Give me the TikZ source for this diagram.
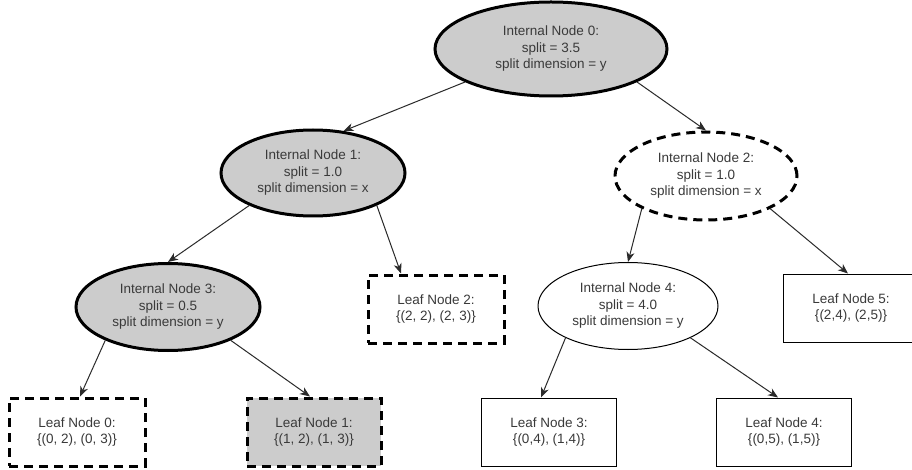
\documentclass[tikz,border=0pt]{standalone}
\usepackage{fontspec}
\setmainfont{Liberation Sans}
\usetikzlibrary{shapes.geometric,arrows.meta}
\definecolor{nodegray}{HTML}{CCCCCC}
\definecolor{ink}{HTML}{3A3A3A}
\definecolor{edgeink}{HTML}{2A2A2A}
\tikzset{
  base/.style={align=center, text=ink, font=\fontsize{13.5}{16.5}\selectfont, inner sep=0pt},
  internal/.style={base, ellipse, draw=black},
  splitnode/.style={internal, fill=nodegray, line width=3pt},
  pending/.style={internal, line width=3pt, dash pattern=on 9pt off 6pt},
  plainsplit/.style={internal, line width=1pt},
  leaf/.style={base, rectangle, draw=black, minimum width=136pt, minimum height=68pt},
  leafdash/.style={leaf, line width=3pt, dash pattern=on 9pt off 6pt},
  leafplain/.style={leaf, line width=1pt},
  edge/.style={draw=edgeink, line width=1pt, -{Stealth[length=10pt,width=8pt,inset=3pt]}},
}

\begin{document}
\begin{tikzpicture}[x=1pt,y=-1pt]
\useasboundingbox (0,0) rectangle (912,470);
\clip (0,0) rectangle (912,470);
\fill[white] (0,0) rectangle (912,470);

% internal nodes
\node[splitnode, minimum width=232pt, minimum height=94pt] (n0) at (551,49)
  {Internal Node 0:\\split = 3.5\\split dimension = y};
\node[splitnode, minimum width=184pt, minimum height=86pt] (n1) at (313,173)
  {Internal Node 1:\\split = 1.0\\split dimension = x};
\node[pending, minimum width=182pt, minimum height=88pt] (n2) at (706,176)
  {Internal Node 2:\\split = 1.0\\split dimension = x};
\node[splitnode, minimum width=184pt, minimum height=87pt] (n3) at (168,307)
  {Internal Node 3:\\split = 0.5\\split dimension = y};
\node[plainsplit, minimum width=180pt, minimum height=87pt] (n4) at (628,306)
  {Internal Node 4:\\split = 4.0\\split dimension = y};

% leaves
\node[leafdash] (l0) at (77,432) {Leaf Node 0:\\\{(0, 2), (0, 3)\}};
\node[leafdash, fill=nodegray, minimum width=134pt] (l1) at (314,432) {Leaf Node 1:\\\{(1, 2), (1, 3)\}};
\node[leafdash] (l2) at (436,309) {Leaf Node 2:\\\{(2, 2), (2, 3)\}};
\node[leafplain, minimum width=135pt] (l3) at (549,432) {Leaf Node 3:\\\{(0,4), (1,4)\}};
\node[leafplain, minimum width=135pt] (l4) at (784,432) {Leaf Node 4:\\\{(0,5), (1,5)\}};
\node[leafplain] (l5) at (851,308) {Leaf Node 5:\\\{(2,4), (2,5)\}};

% connectors
\draw[edge] (n0.201) -- (n1.54);
\draw[edge] (n0.339) -- (n2.north);
\draw[edge] (n1.207) -- (n3.north);
\draw[edge] (n1.333) -- ([xshift=-35pt]l2.north);
\draw[edge] (n2.207) -- (n4.north);
\draw[edge] (n2.333) -- ([xshift=-3pt]l5.north);
\draw[edge] (n3.208) -- ([xshift=3pt]l0.north);
\draw[edge] (n3.332) -- ([xshift=-4pt]l1.north);
\draw[edge] (n4.207) -- ([xshift=-8pt]l3.north);
\draw[edge] (n4.333) -- ([xshift=-6pt]l4.north);
\end{tikzpicture}
\end{document}
